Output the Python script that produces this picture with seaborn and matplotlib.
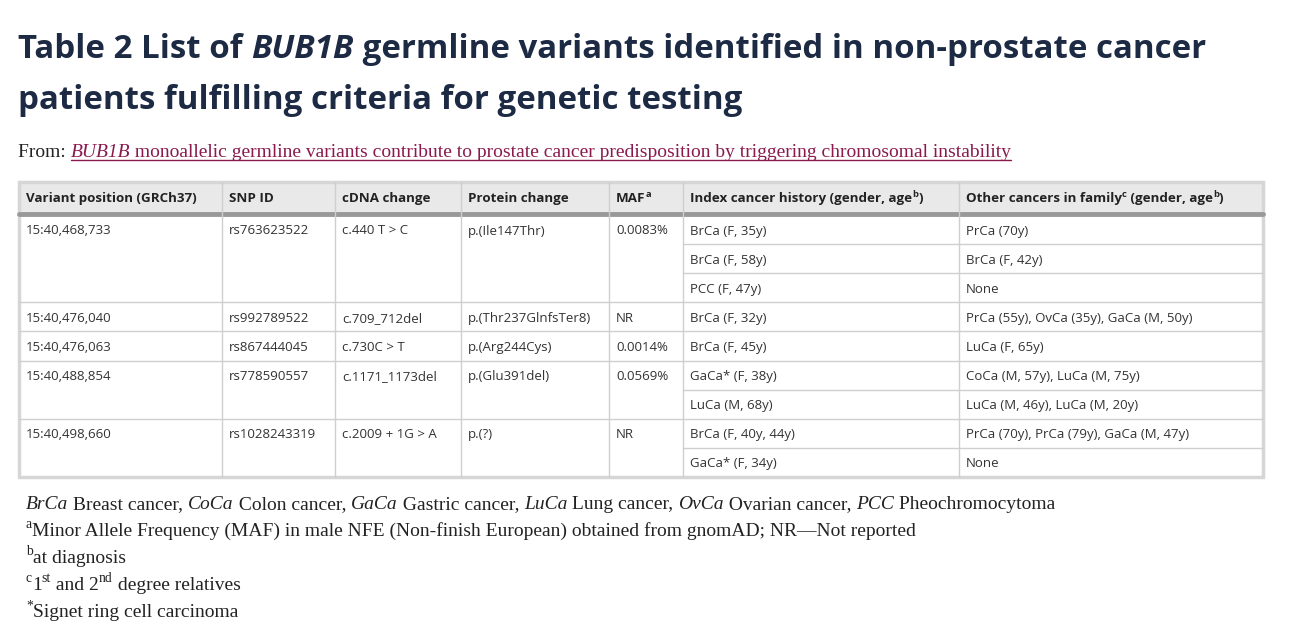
import matplotlib
matplotlib.use("Agg")
import matplotlib.pyplot as plt
import seaborn as sns

sns.set_theme(style="white")

W, H = 1294, 626

columns = ["Variant position (GRCh37)", "SNP ID", "cDNA change", "Protein change",
           "MAF", "Index cancer history (gender, age", "Other cancers in family"]
col_edges = [19, 222, 335, 461, 609, 683, 959, 1263]

positions = ["15:40,468,733", "15:40,476,040", "15:40,476,063", "15:40,488,854", "15:40,498,660"]
snp_ids = ["rs763623522", "rs992789522", "rs867444045", "rs778590557", "rs1028243319"]
cdna = ["c.440 T > C", "c.709_712del", "c.730C > T", "c.1171_1173del", "c.2009 + 1G > A"]
protein = ["p.(Ile147Thr)", "p.(Thr237GlnfsTer8)", "p.(Arg244Cys)", "p.(Glu391del)", "p.(?)"]
maf = ["0.0083%", "NR", "0.0014%", "0.0569%", "NR"]
index_history = [["BrCa (F, 35y)", "BrCa (F, 58y)", "PCC (F, 47y)"],
                 ["BrCa (F, 32y)"],
                 ["BrCa (F, 45y)"],
                 ["GaCa* (F, 38y)", "LuCa (M, 68y)"],
                 ["BrCa (F, 40y, 44y)", "GaCa* (F, 34y)"]]
family = [["PrCa (70y)", "BrCa (F, 42y)", "None"],
          ["PrCa (55y), OvCa (35y), GaCa (M, 50y)"],
          ["LuCa (F, 65y)"],
          ["CoCa (M, 57y), LuCa (M, 75y)", "LuCa (M, 46y), LuCa (M, 20y)"],
          ["PrCa (70y), PrCa (79y), GaCa (M, 47y)", "None"]]

fig = plt.figure(figsize=(W / 100, H / 100), dpi=100)
ax = fig.add_axes([0, 0, 1, 1])
ax.set_xlim(0, W)
ax.set_ylim(H, 0)
ax.axis("off")
fig.canvas.draw()
renderer = fig.canvas.get_renderer()

NAVY = "#1d2a44"
TXT = "#333333"
SANS = ["Open Sans", "DejaVu Sans"]
SERIF = ["Liberation Serif", "DejaVu Serif"]


def runs(x, y, parts, family, size, color, weight="normal"):
    # parts: list of (text, kind) where kind in "", "i", "sup"
    for text, kind in parts:
        fs = size * 0.7 if kind == "sup" else size
        yy = y - size * 0.55 if kind == "sup" else y
        t = ax.text(x, yy, text, fontsize=fs, family=family, color=color, weight=weight,
                    style="italic" if kind == "i" else "normal", va="baseline", ha="left")
        bb = t.get_window_extent(renderer)
        x += bb.width
    return x


# title
runs(18, 58, [("Table 2 List of ", ""), ("BUB1B", "i"), (" germline variants identified in non-prostate cancer", "")],
     SANS, 23.8, NAVY, "bold")
runs(18, 109, [("patients fulfilling criteria for genetic testing", "")], SANS, 23.8, NAVY, "bold")

# from line
x = runs(18, 157, [("From: ", "")], SERIF, 14, "#222222")
x2 = runs(x, 157, [("BUB1B", "i"), (" monoallelic germline variants contribute to prostate cancer predisposition by triggering chromosomal instability", "")],
          SERIF, 14, "#8a1a4d")
ax.plot([x, x2], [160, 160], color="#8a1a4d", lw=1)

# table
top, head_bot, row_h = 182, 212, 29.1
n_sub = sum(len(r) for r in index_history)
bottom = head_bot + 3 + n_sub * row_h
ax.add_patch(plt.Rectangle((col_edges[0], top), col_edges[-1] - col_edges[0], head_bot - top,
                           color="#e9e9e9", zorder=0))
ax.plot([col_edges[0], col_edges[-1]], [head_bot + 1.5, head_bot + 1.5], color="#999999", lw=3.5)
LINE = "#cfcfcf"
for xe in col_edges[1:-1]:
    ax.plot([xe, xe], [top, bottom], color=LINE, lw=1)
ax.add_patch(plt.Rectangle((col_edges[0], top), col_edges[-1] - col_edges[0], bottom - top,
                           fill=False, ec="#d6d6d6", lw=2.5))

hy = 202
for i, c in enumerate(columns):
    parts = [(c, "")]
    if i == 4:
        parts.append(("a", "sup"))
    if i == 5:
        parts += [("b", "sup"), (")", "")]
    if i == 6:
        parts += [("c", "sup"), (" (gender, age", ""), ("b", "sup"), (")", "")]
    runs(col_edges[i] + 7, hy, parts, SANS, 9.6, "#222222", "bold")

BFS = 9.5
y0 = head_bot + 3
for v in range(len(positions)):
    k = len(index_history[v])
    ty = y0 + 19.5
    for j, val in enumerate([positions[v], snp_ids[v], cdna[v], protein[v], maf[v]]):
        ax.text(col_edges[j] + 7, ty, val, fontsize=BFS, family=SANS, color=TXT, va="baseline")
    for s in range(k):
        sy = y0 + s * row_h
        ax.text(col_edges[5] + 7, sy + 19.5, index_history[v][s], fontsize=BFS, family=SANS, color=TXT, va="baseline")
        ax.text(col_edges[6] + 7, sy + 19.5, family[v][s], fontsize=BFS, family=SANS, color=TXT, va="baseline")
        if s > 0:
            ax.plot([col_edges[5], col_edges[-1]], [sy, sy], color=LINE, lw=1)
    y0 += k * row_h
    if v < len(positions) - 1:
        ax.plot([col_edges[0], col_edges[-1]], [y0, y0], color=LINE, lw=1)

# footnotes
fs = 14
runs(26, 509, [("BrCa", "i"), (" Breast cancer, ", ""), ("CoCa", "i"), (" Colon cancer, ", ""),
               ("GaCa", "i"), (" Gastric cancer, ", ""), ("LuCa", "i"), (" Lung cancer, ", ""),
               ("OvCa", "i"), (" Ovarian cancer, ", ""), ("PCC", "i"), (" Pheochromocytoma", "")],
     SERIF, fs, "#222222")
runs(26, 536, [("a", "sup"), ("Minor Allele Frequency (MAF) in male NFE (Non-finish European) obtained from gnomAD; NR\u2014Not reported", "")],
     SERIF, fs, "#222222")
runs(26, 563, [("b", "sup"), ("at diagnosis", "")], SERIF, fs, "#222222")
runs(26, 590, [("c", "sup"), ("1", ""), ("st", "sup"), (" and 2", ""), ("nd", "sup"), (" degree relatives", "")],
     SERIF, fs, "#222222")
runs(26, 617, [("*", "sup"), ("Signet ring cell carcinoma", "")], SERIF, fs, "#222222")

fig.savefig("out.png", dpi=100)
